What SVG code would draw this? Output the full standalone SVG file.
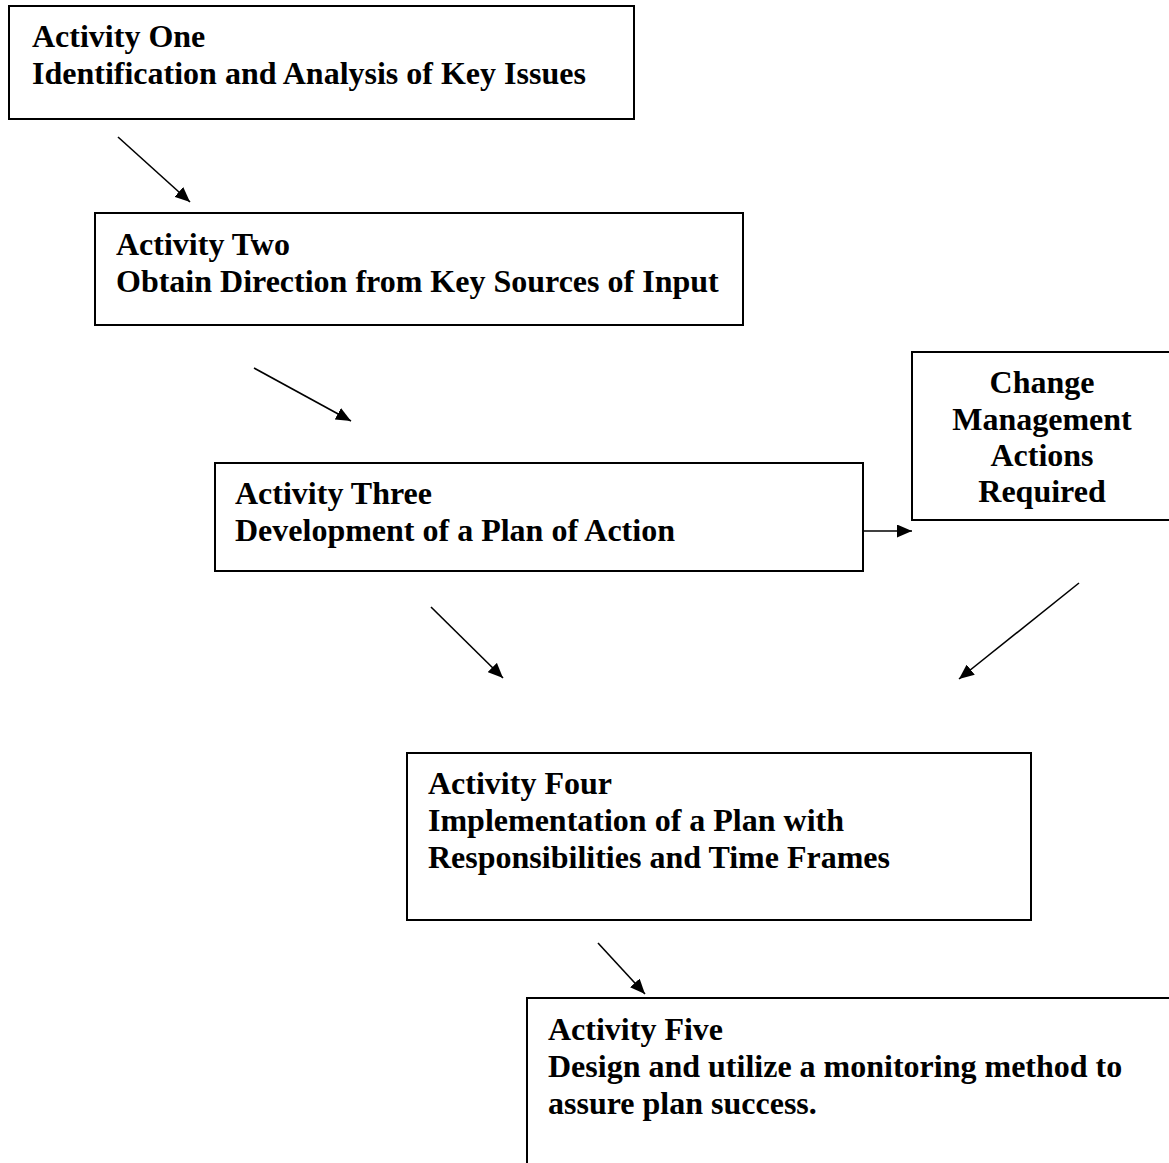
<svg xmlns="http://www.w3.org/2000/svg" width="1169" height="1163" viewBox="0 0 1169 1163">
<style>
.box{fill:#fff;stroke:#000;stroke-width:2}
.t{font-family:"Liberation Serif","Times New Roman",serif;font-weight:bold;font-size:32px;fill:#000}
.c{text-anchor:middle}
.ln{stroke:#000;stroke-width:1.6;fill:none}
</style>
<defs>
<marker id="ah" viewBox="0 0 15 13" refX="15" refY="6.5" markerWidth="15" markerHeight="13" markerUnits="userSpaceOnUse" orient="auto">
<path d="M0,0 L15,6.5 L0,13 z" fill="#000"/>
</marker>
</defs>
<rect width="1169" height="1163" fill="#fff"/>
<g id="connectors">
<line class="ln" x1="118" y1="137" x2="190" y2="202" marker-end="url(#ah)"/>
<line class="ln" x1="254" y1="368" x2="351" y2="421" marker-end="url(#ah)"/>
<line class="ln" x1="431" y1="607" x2="503" y2="678" marker-end="url(#ah)"/>
<line class="ln" x1="1079" y1="583" x2="959" y2="679" marker-end="url(#ah)"/>
<line class="ln" x1="598" y1="943" x2="645" y2="994" marker-end="url(#ah)"/>
<line class="ln" x1="863" y1="531" x2="912" y2="531" marker-end="url(#ah)"/>
</g>
<g id="activity-one">
<rect class="box" x="9" y="6" width="625" height="113"/>
<text class="t" x="32" y="47">Activity One</text>
<text class="t" x="32" y="84">Identification and Analysis of Key Issues</text>
</g>
<g id="activity-two">
<rect class="box" x="95" y="213" width="648" height="112"/>
<text class="t" x="116" y="255">Activity Two</text>
<text class="t" x="116" y="292">Obtain Direction from Key Sources of Input</text>
</g>
<g id="activity-three">
<rect class="box" x="215" y="463" width="648" height="108"/>
<text class="t" x="235" y="504">Activity Three</text>
<text class="t" x="235" y="541">Development of a Plan of Action</text>
</g>
<g id="change-management">
<rect class="box" x="912" y="352" width="270" height="168"/>
<text class="t c" x="1042" y="393">Change</text>
<text class="t c" x="1042" y="430">Management</text>
<text class="t c" x="1042" y="466">Actions</text>
<text class="t c" x="1042" y="502">Required</text>
</g>
<g id="activity-four">
<rect class="box" x="407" y="753" width="624" height="167"/>
<text class="t" x="428" y="794">Activity Four</text>
<text class="t" x="428" y="831">Implementation of a Plan with</text>
<text class="t" x="428" y="868">Responsibilities and Time Frames</text>
</g>
<g id="activity-five">
<rect class="box" x="527" y="998" width="660" height="180"/>
<text class="t" x="548" y="1040">Activity Five</text>
<text class="t" x="548" y="1077">Design and utilize a monitoring method to</text>
<text class="t" x="548" y="1114">assure plan success.</text>
</g>
</svg>
